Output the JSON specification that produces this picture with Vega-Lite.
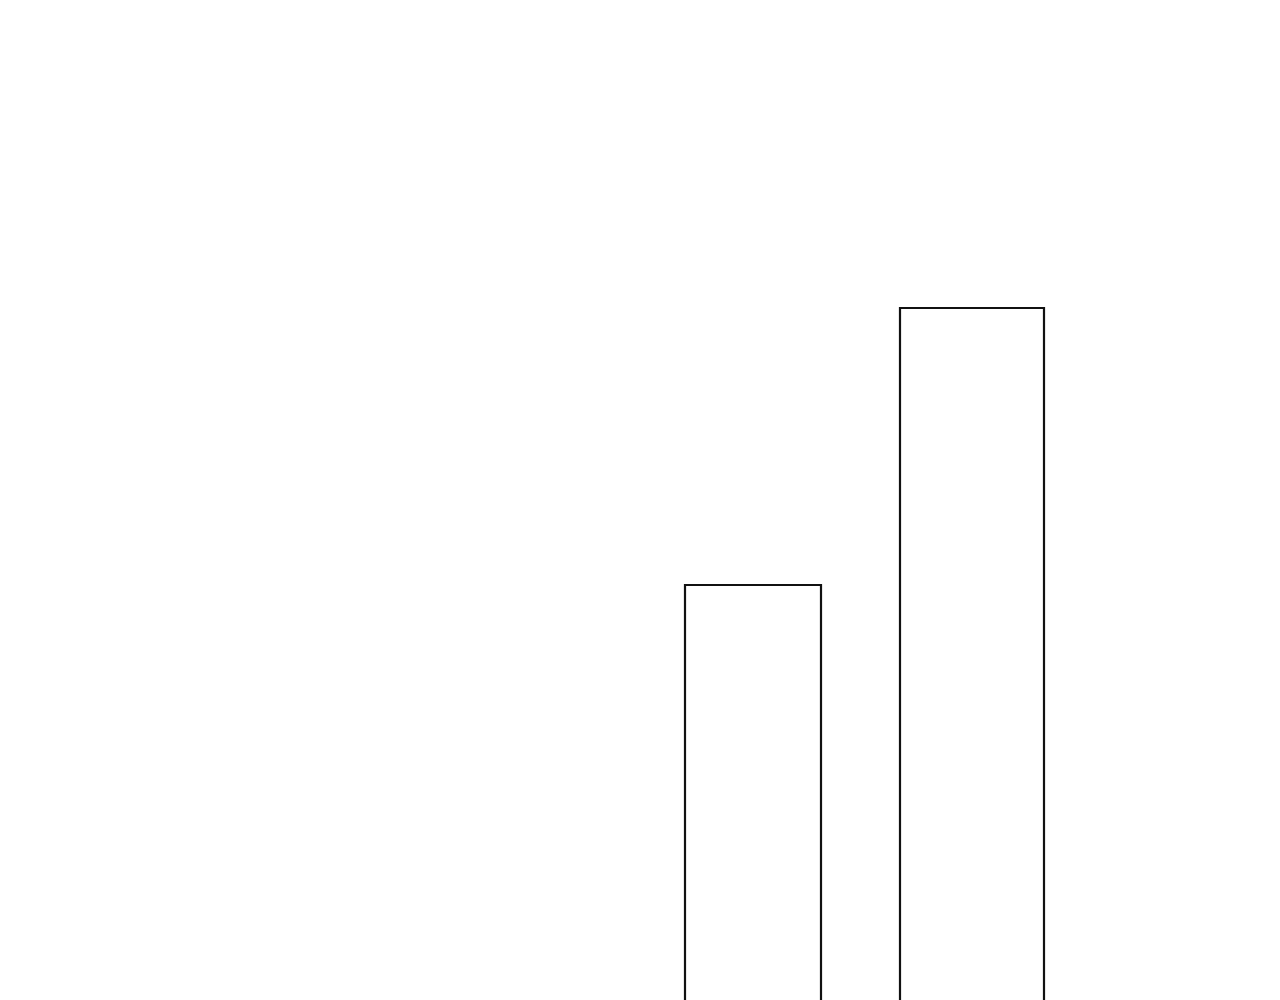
{
  "$schema": "https://vega.github.io/schema/vega-lite/v6.json",
  "autosize": {"type": "fit", "contains": "padding"},
  "width": 1280,
  "height": 1000,
  "padding": 0,
  "background": "#ffffff",
  "config": {"view": {"stroke": null}},
  "data": {
    "values": [
      {"category": "A", "start": 6.85, "end": 8.21, "value": 5.15},
      {"category": "B", "start": 9.0, "end": 10.44, "value": 7.92}
    ]
  },
  "mark": {"type": "bar", "fill": "#ffffff", "stroke": "#111111", "strokeWidth": 2.2, "clip": true},
  "encoding": {
    "x": {"field": "start", "type": "quantitative", "scale": {"domain": [0, 12.8], "nice": false, "zero": false}, "axis": null},
    "x2": {"field": "end"},
    "y": {"field": "value", "type": "quantitative", "scale": {"domain": [1, 11], "nice": false, "zero": false}, "axis": null},
    "y2": {"datum": 0}
  }
}
